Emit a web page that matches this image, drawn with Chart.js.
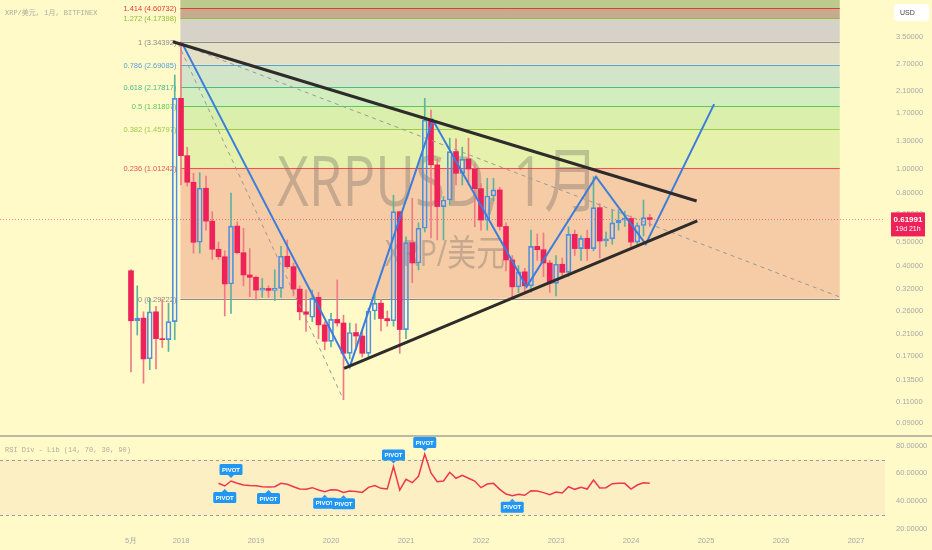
<!DOCTYPE html>
<html>
<head>
<meta charset="utf-8">
<script src="https://cdn.jsdelivr.net/npm/chart.js@4.4.1/dist/chart.umd.min.js"></script>
<style>
  html, body { margin: 0; padding: 0; background: #fffac8; }
  canvas { display: block; }
</style>
</head>
<body>
<canvas id="chart" width="932" height="550"></canvas>
<script>
// indice de mes: 0 = enero 2018, la primera vela es mayo 2017
var firstMonth = -8;

var openValues = [0.381, 0.237, 0.243, 0.165, 0.258, 0.2, 0.198, 0.235,
    1.955, 1.135, 0.882, 0.499, 0.833, 0.61, 0.467, 0.435, 0.336, 0.582, 0.452, 0.366,
    0.358, 0.317, 0.322, 0.316, 0.322, 0.437, 0.396, 0.32, 0.258, 0.245, 0.296, 0.228,
    0.195, 0.24, 0.232, 0.174, 0.212, 0.205, 0.174, 0.26, 0.28, 0.242, 0.237, 0.667,
    0.218, 0.497, 0.41, 0.57, 1.59, 1.04, 0.70, 0.745, 1.18, 0.96, 1.10, 1.00,
    0.83, 0.616, 0.774, 0.82, 0.58, 0.422, 0.327, 0.377, 0.33, 0.48, 0.465, 0.41,
    0.338, 0.405, 0.375, 0.538, 0.47, 0.518, 0.47, 0.693, 0.505, 0.515, 0.60, 0.616,
    0.625, 0.50, 0.585, 0.63];
var highValues = [0.385, 0.33, 0.258, 0.293, 0.272, 0.29, 0.28, 2.44,
    3.344, 1.23, 0.96, 0.965, 0.935, 0.667, 0.5, 0.46, 0.795, 0.606, 0.57, 0.47,
    0.362, 0.354, 0.33, 0.384, 0.48, 0.51, 0.41, 0.33, 0.317, 0.317, 0.31, 0.235,
    0.254, 0.349, 0.25, 0.232, 0.23, 0.215, 0.267, 0.308, 0.29, 0.26, 0.78, 0.67,
    0.526, 0.757, 0.6, 1.955, 1.75, 1.1, 0.77, 1.34, 1.33, 1.23, 1.34, 1.05,
    0.87, 0.915, 0.915, 0.84, 0.60, 0.44, 0.40, 0.39, 0.56, 0.54, 0.545, 0.42,
    0.44, 0.43, 0.578, 0.56, 0.53, 0.56, 0.93, 0.72, 0.55, 0.678, 0.68, 0.67,
    0.64, 0.60, 0.745, 0.65];
var lowValues = [0.146, 0.207, 0.131, 0.149, 0.15, 0.184, 0.177, 0.198,
    0.86, 0.85, 0.45, 0.45, 0.56, 0.424, 0.424, 0.248, 0.254, 0.447, 0.33, 0.298,
    0.289, 0.296, 0.296, 0.287, 0.296, 0.39, 0.30, 0.239, 0.214, 0.235, 0.2, 0.18,
    0.185, 0.225, 0.112, 0.165, 0.18, 0.168, 0.168, 0.24, 0.215, 0.225, 0.225, 0.174,
    0.2, 0.34, 0.384, 0.55, 0.52, 0.51, 0.51, 0.71, 0.86, 0.86, 0.86, 0.578,
    0.56, 0.56, 0.74, 0.56, 0.38, 0.293, 0.31, 0.307, 0.31, 0.42, 0.36, 0.31,
    0.30, 0.36, 0.36, 0.44, 0.42, 0.42, 0.46, 0.43, 0.48, 0.49, 0.56, 0.58,
    0.48, 0.49, 0.53, 0.58];
var closeValues = [0.237, 0.243, 0.165, 0.258, 0.2, 0.198, 0.235, 1.955,
    1.135, 0.882, 0.499, 0.833, 0.61, 0.467, 0.435, 0.336, 0.582, 0.452, 0.366, 0.358,
    0.317, 0.322, 0.316, 0.322, 0.437, 0.396, 0.32, 0.258, 0.252, 0.293, 0.228, 0.195,
    0.24, 0.232, 0.174, 0.212, 0.205, 0.174, 0.26, 0.28, 0.242, 0.237, 0.667, 0.218,
    0.497, 0.41, 0.57, 1.59, 1.04, 0.70, 0.745, 1.18, 0.96, 1.10, 1.00, 0.83,
    0.616, 0.774, 0.82, 0.58, 0.422, 0.327, 0.377, 0.33, 0.48, 0.465, 0.41, 0.338,
    0.405, 0.375, 0.538, 0.47, 0.518, 0.47, 0.693, 0.505, 0.515, 0.60, 0.616, 0.625,
    0.50, 0.585, 0.63, 0.61991];

// RSI mensual, empieza en julio 2018
var rsiFirstMonth = 6;
var rsiValues = [52.9, 50.9, 54.5, 52.9, 51.6, 51.2, 51.0, 50.4, 50.2, 50.4,
    52.9, 52.2, 50.4, 48.7, 48.5, 49.7, 48.0, 46.8, 48.2, 48.0,
    46.3, 47.3, 47.0, 46.3, 49.9, 51.2, 49.2, 48.7, 64.9, 48.0,
    55.7, 53.3, 57.9, 74.0, 60.3, 54.0, 54.5, 60.8, 56.5, 58.6,
    56.5, 54.5, 49.7, 52.3, 52.8, 48.5, 45.1, 43.9, 44.9, 44.2,
    47.5, 47.3, 46.1, 44.6, 46.6, 45.8, 50.4, 48.5, 50.0, 48.7,
    55.2, 49.5, 49.7, 52.6, 52.8, 52.8, 48.7, 51.6, 53.3, 52.8];
var pivotHighMonths = [8, 34, 39];
var pivotLowMonths = [7, 14, 23, 26, 53];

var fibLevels = ['1.414', '1.272', '1', '0.786', '0.618', '0.5', '0.382', '0.236', '0'];
var fibPrices = [4.60732, 4.17398, 3.34392, 2.69085, 2.17817, 1.81807, 1.45797, 1.01242, 0.29222];
var fibStartMonth = -0.1;
var fibEndMonth = 105.4;

// lineas dibujadas (mes, precio)
var upperTrend = [{x: -1.3, y: 3.344}, {x: 82.5, y: 0.738}];
var lowerTrend = [{x: 26.1, y: 0.151}, {x: 82.6, y: 0.611}];
var zigzag = [{x: 0.16, y: 3.31}, {x: 27, y: 0.153}, {x: 40.3, y: 1.59}, {x: 55.3, y: 0.327},
    {x: 66.4, y: 0.93}, {x: 74.35, y: 0.49}, {x: 85.3, y: 1.85}];
var dashedLong = [{x: -0.5, y: 3.3}, {x: 105.4, y: 0.297}];
var dashedSteep = [{x: -0.5, y: 3.3}, {x: 26, y: 0.112}];

var priceTicks = [3.5, 2.7, 2.1, 1.7, 1.3, 1.0, 0.8, 0.65, 0.5, 0.4, 0.32, 0.26, 0.21, 0.17, 0.135, 0.11, 0.09];
var rsiTicks = [80, 60, 40, 20];
var timeTicks = [-8, 0, 12, 24, 36, 48, 60, 72, 84, 96, 108];
var timeLabels = ['5月', '2018', '2019', '2020', '2021', '2022', '2023', '2024', '2025', '2026', '2027'];

var lastPrice = 0.61991;
var countdown = '19d 21h';

// colores
var fibBandColors = ['#bdca8d', '#c6ab8d', '#d6d2c8', '#e3e0c5', '#d3e5c9', '#d2eebf', '#d9efab', '#e6f1ab', '#f5cca6'];
var fibLineColors = ['#e53935', '#8cbf3c', '#8a8a8a', '#5a9fd4', '#4cb88a', '#5cc85c', '#99cc44', '#ef5350', '#8a8a8a'];
var redColor = '#ee2158';
var redWick = '#f07a86';
var blueColor = '#4f8fe0';
var blueWick = '#5db39b';
var fontFamily = "'Liberation Sans', Arial, sans-serif";

var redBodies = [], blueBodies = [], redUpper = [], redLower = [], blueUpper = [], blueLower = [];

function buildCandles() {
    for (var i = 0; i < openValues.length; i++) {
        var m = firstMonth + i;
        var o = openValues[i], c = closeValues[i];
        var bodyTop = Math.max(o, c), bodyBottom = Math.min(o, c);
        if (c >= o) {
            blueBodies.push({x: m, y: [o, c]});
            blueUpper.push({x: m, y: [bodyTop, highValues[i]]});
            blueLower.push({x: m, y: [lowValues[i], bodyBottom]});
        } else {
            redBodies.push({x: m, y: [c, o]});
            redUpper.push({x: m, y: [bodyTop, highValues[i]]});
            redLower.push({x: m, y: [lowValues[i], bodyBottom]});
        }
    }
}
buildCandles();

var rsiPoints = rsiValues.map(function (v, k) {
    return {x: rsiFirstMonth + k, y: v};
});

function rsiAt(month) {
    return rsiValues[month - rsiFirstMonth];
}

function wickSet(data, color) {
    return {type: 'bar', data: data, backgroundColor: color, borderWidth: 0, barThickness: 1,
        grouped: false, order: 3, yAxisID: 'y'};
}

function lineSet(data, color, width, dash) {
    return {type: 'line', data: data, borderColor: color, borderWidth: width, borderDash: dash || [],
        pointRadius: 0, tension: 0, fill: false, order: 0, yAxisID: 'y'};
}

function drawPivot(ctx, cx, cy, below) {
    var w = 23, h = 11, gap = 3, arrow = 3;
    var tip = below ? cy + gap : cy - gap;
    var boxTop = below ? tip + arrow : tip - arrow - h;
    ctx.fillStyle = '#2196f3';
    ctx.beginPath();
    ctx.moveTo(cx, tip);
    ctx.lineTo(cx - 3, below ? tip + arrow : tip - arrow);
    ctx.lineTo(cx + 3, below ? tip + arrow : tip - arrow);
    ctx.closePath();
    ctx.fill();
    ctx.beginPath();
    ctx.roundRect(cx - w / 2, boxTop, w, h, 1.5);
    ctx.fill();
    ctx.fillStyle = '#ffffff';
    ctx.font = 'bold 6px ' + fontFamily;
    ctx.textAlign = 'center';
    ctx.textBaseline = 'middle';
    ctx.fillText('PIVOT', cx, boxTop + h / 2 + 0.5);
}

var panelPlugin = {
    id: 'panels',
    beforeDraw: function (chart) {
        var ctx = chart.ctx;
        ctx.save();
        ctx.fillStyle = '#fffac8';
        ctx.fillRect(0, 0, chart.width, chart.height);
        ctx.restore();
    },
    beforeDatasetsDraw: function (chart) {
        var ctx = chart.ctx;
        var xs = chart.scales.x, ys = chart.scales.y, rs = chart.scales.rsi;
        var left = chart.chartArea.left, right = chart.chartArea.right;
        var fx0 = xs.getPixelForValue(fibStartMonth), fx1 = xs.getPixelForValue(fibEndMonth);
        ctx.save();

        // bandas de fibonacci
        var prevY = ys.top;
        for (var i = 0; i < fibPrices.length; i++) {
            var ly = ys.getPixelForValue(fibPrices[i]);
            ctx.fillStyle = fibBandColors[i];
            ctx.fillRect(fx0, prevY, fx1 - fx0, ly - prevY);
            prevY = ly;
        }
        ctx.lineWidth = 1;
        ctx.font = '7.5px ' + fontFamily;
        ctx.textAlign = 'right';
        ctx.textBaseline = 'middle';
        for (var j = 0; j < fibPrices.length; j++) {
            var y = Math.round(ys.getPixelForValue(fibPrices[j])) + 0.5;
            ctx.strokeStyle = fibLineColors[j];
            ctx.beginPath();
            ctx.moveTo(fx0, y);
            ctx.lineTo(fx1, y);
            ctx.stroke();
            ctx.fillStyle = fibLineColors[j];
            ctx.fillText(fibLevels[j] + ' (' + fibPrices[j].toFixed(5) + ')', fx0 - 4, y);
        }

        // marca de agua
        ctx.fillStyle = 'rgba(90, 85, 85, 0.3)';
        ctx.textAlign = 'center';
        ctx.textBaseline = 'middle';
        ctx.save();
        ctx.translate(438, 186);
        ctx.scale(0.78, 1);
        ctx.font = "70px 'Open Sans', 'Noto Sans CJK SC', sans-serif";
        ctx.fillText('XRPUSD, 1月', 0, 0);
        ctx.restore();
        ctx.save();
        ctx.translate(445, 256);
        ctx.scale(0.8, 1);
        ctx.font = "36px 'Open Sans', 'Noto Sans CJK SC', sans-serif";
        ctx.fillText('XRP/美元', 0, 0);
        ctx.restore();

        // zona RSI 70 - 30
        var r70 = rs.getPixelForValue(70), r30 = rs.getPixelForValue(30);
        ctx.fillStyle = '#fbefc3';
        ctx.fillRect(left, r70, right - left, r30 - r70);
        ctx.strokeStyle = '#a09c90';
        ctx.setLineDash([3, 3]);
        ctx.beginPath();
        ctx.moveTo(left, Math.round(r70) + 0.5);
        ctx.lineTo(right, Math.round(r70) + 0.5);
        ctx.moveTo(left, Math.round(r30) + 0.5);
        ctx.lineTo(right, Math.round(r30) + 0.5);
        ctx.stroke();

        // precio actual
        var py = Math.round(ys.getPixelForValue(lastPrice)) + 0.5;
        ctx.strokeStyle = 'rgba(238, 33, 88, 0.55)';
        ctx.setLineDash([1, 2]);
        ctx.beginPath();
        ctx.moveTo(left, py);
        ctx.lineTo(right, py);
        ctx.stroke();
        ctx.restore();
    },
    afterDatasetsDraw: function (chart) {
        var ctx = chart.ctx;
        var xs = chart.scales.x, ys = chart.scales.y, rs = chart.scales.rsi;
        ctx.save();

        pivotHighMonths.forEach(function (m) {
            drawPivot(ctx, xs.getPixelForValue(m), rs.getPixelForValue(rsiAt(m)), false);
        });
        pivotLowMonths.forEach(function (m) {
            drawPivot(ctx, xs.getPixelForValue(m), rs.getPixelForValue(rsiAt(m)), true);
        });

        // etiqueta del precio
        var py = ys.getPixelForValue(lastPrice);
        ctx.fillStyle = redColor;
        ctx.fillRect(891, py - 7, 34, 24);
        ctx.fillStyle = '#ffffff';
        ctx.textAlign = 'center';
        ctx.textBaseline = 'middle';
        ctx.font = 'bold 8px ' + fontFamily;
        ctx.fillText(lastPrice.toFixed(5), 908, py);
        ctx.font = '7px ' + fontFamily;
        ctx.fillText(countdown, 908, py + 10);

        // caja USD
        ctx.fillStyle = '#ffffff';
        ctx.beginPath();
        ctx.roundRect(894, 4, 35, 17, 3);
        ctx.fill();
        ctx.fillStyle = '#444444';
        ctx.font = '7px ' + fontFamily;
        ctx.textAlign = 'left';
        ctx.fillText('USD', 900, 13);

        // titulos
        ctx.fillStyle = '#b0aca0';
        ctx.font = "7px 'Liberation Mono', 'Noto Sans CJK SC', monospace";
        ctx.fillText('XRP/美元, 1月, BITFINEX', 5, 13);
        ctx.fillText('RSI Div - Lib (14, 70, 30, 90)', 5, 450);

        // separador de paneles
        ctx.fillStyle = '#bdb9a2';
        ctx.fillRect(0, ys.bottom - 1, chart.width, 2);
        ctx.restore();
    }
};

function noPadding(scale) {
    scale.paddingTop = 0;
    scale.paddingBottom = 0;
    scale.paddingLeft = 0;
    scale.paddingRight = 0;
}

var tickFont = {family: fontFamily, size: 7.5};
var tickColor = '#a9a9a9';

var ctx = document.getElementById('chart').getContext('2d');
var myChart = new Chart(ctx, {
    type: 'bar',
    data: {
        datasets: [
            lineSet(upperTrend, '#2e2b2b', 3),
            lineSet(lowerTrend, '#2e2b2b', 3),
            lineSet(zigzag, '#3b7ddd', 2),
            lineSet(dashedLong, '#9a9a9a', 1, [4, 4]),
            lineSet(dashedSteep, '#9a9a9a', 1, [4, 4]),
            {type: 'line', data: rsiPoints, borderColor: '#f0364e', borderWidth: 1.5, pointRadius: 0,
                tension: 0, fill: false, order: 0, yAxisID: 'rsi'},
            {type: 'bar', data: redBodies, backgroundColor: redColor, borderWidth: 0, barThickness: 5,
                minBarLength: 1, grouped: false, order: 1, yAxisID: 'y'},
            {type: 'bar', data: blueBodies, backgroundColor: 'rgba(0,0,0,0)', borderColor: blueColor,
                borderWidth: 1, borderSkipped: false, barThickness: 5, minBarLength: 2, grouped: false,
                order: 1, yAxisID: 'y'},
            wickSet(redUpper, redWick),
            wickSet(redLower, redWick),
            wickSet(blueUpper, blueWick),
            wickSet(blueLower, blueWick)
        ]
    },
    options: {
        responsive: false,
        animation: false,
        devicePixelRatio: 1,
        events: [],
        layout: {padding: 0},
        plugins: {legend: {display: false}, tooltip: {enabled: false}},
        scales: {
            x: {
                type: 'linear',
                position: 'bottom',
                offset: false,
                min: -28.96,
                max: 112.64,
                grid: {display: false, drawTicks: false, offset: false},
                border: {display: false},
                ticks: {
                    color: tickColor, font: tickFont, padding: 4, autoSkip: false, maxRotation: 0,
                    callback: function (v) {
                        var k = timeTicks.indexOf(v);
                        return k >= 0 ? timeLabels[k] : '';
                    }
                },
                afterBuildTicks: function (s) {
                    s.ticks = timeTicks.map(function (v) { return {value: v}; });
                },
                afterFit: function (s) {
                    s.height = 18;
                    noPadding(s);
                }
            },
            y: {
                type: 'logarithmic',
                position: 'right',
                stack: 'panes',
                stackWeight: 436,
                min: 0.07941,
                max: 4.97,
                grid: {display: false, drawTicks: false},
                border: {display: false},
                ticks: {
                    color: tickColor, font: tickFont, padding: 11, autoSkip: false,
                    callback: function (v) { return Number(v).toFixed(5); }
                },
                afterBuildTicks: function (s) {
                    s.ticks = priceTicks.map(function (v) { return {value: v}; });
                },
                afterFit: function (s) {
                    s.width = 47;
                    noPadding(s);
                }
            },
            rsi: {
                type: 'linear',
                position: 'right',
                stack: 'panes',
                stackWeight: 96,
                min: 17.69,
                max: 87.0,
                grid: {display: false, drawTicks: false},
                border: {display: false},
                ticks: {
                    color: tickColor, font: tickFont, padding: 11, autoSkip: false,
                    callback: function (v) { return Number(v).toFixed(5); }
                },
                afterBuildTicks: function (s) {
                    s.ticks = rsiTicks.map(function (v) { return {value: v}; });
                },
                afterFit: function (s) {
                    s.width = 47;
                    noPadding(s);
                }
            }
        }
    },
    plugins: [panelPlugin]
});
</script>
</body>
</html>
